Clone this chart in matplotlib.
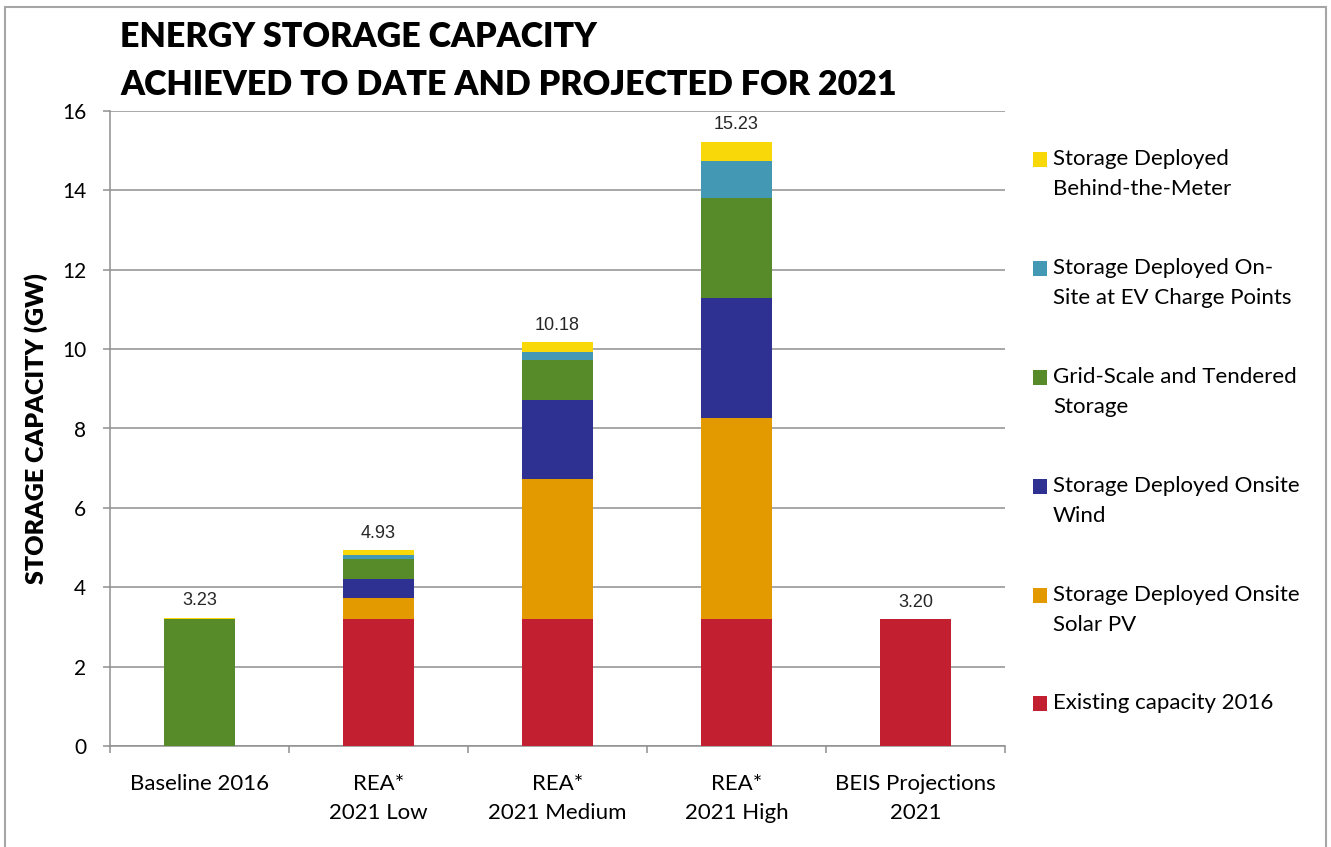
import matplotlib.pyplot as plt
from matplotlib.patches import Rectangle
import numpy as np

# categories along the x axis
categories = ["Baseline 2016", "REA*\n2021 Low", "REA*\n2021 Medium",
              "REA*\n2021 High", "BEIS Projections\n2021"]

# stacked segments (GW), bottom to top
existing = [0.00, 3.20, 3.20, 3.20, 3.20]
solar_pv = [0.00, 0.53, 3.53, 5.06, 0.00]
wind = [0.00, 0.48, 2.00, 3.02, 0.00]
grid_scale = [3.20, 0.50, 1.00, 2.52, 0.00]
ev_points = [0.00, 0.10, 0.20, 0.94, 0.00]
behind_meter = [0.03, 0.12, 0.25, 0.49, 0.00]

totals = [3.23, 4.93, 10.18, 15.23, 3.20]

series = [
    ("Existing capacity 2016", existing, "#C21F30"),
    ("Storage Deployed Onsite\nSolar PV", solar_pv, "#E29A00"),
    ("Storage Deployed Onsite\nWind", wind, "#2E3192"),
    ("Grid-Scale and Tendered\nStorage", grid_scale, "#578B2A"),
    ("Storage Deployed On-\nSite at EV Charge Points", ev_points, "#4398B3"),
    ("Storage Deployed\nBehind-the-Meter", behind_meter, "#F8D808"),
]

W, H = 1331, 847
fig = plt.figure(figsize=(W / 100, H / 100), dpi=100)
fig.patch.set_facecolor("white")

# outer chart border
fig.patches.append(Rectangle((5 / W, -0.01), 1321 / W, 1 - 7 / H + 0.01,
                             transform=fig.transFigure, fill=False,
                             edgecolor="#a6a6a6", linewidth=1.5))

ax = fig.add_axes([110 / W, 1 - 746 / H, 895 / W, 635 / H])

x = np.arange(len(categories))
bottom = np.zeros(len(categories))
for label, vals, color in series:
    vals = np.array(vals)
    ax.bar(x, vals, width=0.4, bottom=bottom, color=color, zorder=3)
    bottom += vals

for xi, t in zip(x, totals):
    ax.annotate(f"{t:.2f}", (xi, t), xytext=(0, 6), textcoords="offset points",
                ha="center", va="bottom", fontsize=13,
                family="Liberation Sans", color="#262626")

ax.set_xlim(-0.5, len(categories) - 0.5)
ax.set_ylim(0, 16)
ax.set_yticks(np.arange(0, 17, 2))
ax.yaxis.grid(True, color="#8f8f8f", linewidth=1.1, zorder=0)
ax.set_axisbelow(True)

ax.set_xticks(x)
ax.set_xticklabels(categories, family="Lato", fontsize=16, linespacing=1.6)
ax.set_xticks(np.arange(-0.5, len(categories), 1), minor=True)
ax.tick_params(axis="x", which="major", length=0, pad=20)
ax.tick_params(axis="x", which="minor", length=5, width=1.1, color="#8f8f8f")
ax.tick_params(axis="y", length=5, width=1.1, color="#8f8f8f", pad=12,
               labelsize=15)
for lab in ax.get_yticklabels():
    lab.set_family("Lato")

for s in ["top", "right"]:
    ax.spines[s].set_visible(False)
for s in ["left", "bottom"]:
    ax.spines[s].set_color("#8f8f8f")
    ax.spines[s].set_linewidth(1.1)

ax.set_ylabel("STORAGE CAPACITY (GW)", family="Lato", fontweight="heavy",
              fontsize=18, labelpad=10)

fig.text(120 / W, 1 - 37 / H, "ENERGY STORAGE CAPACITY", family="Lato",
         fontweight="heavy", fontsize=24.5, va="center", ha="left")
fig.text(120 / W, 1 - 85 / H, "ACHIEVED TO DATE AND PROJECTED FOR 2021",
         family="Lato", fontweight="heavy", fontsize=24.5, va="center",
         ha="left")

# legend, top entry first
legend_y = [159, 268, 377, 486, 595, 703]
for (label, vals, color), ly in zip(series[::-1], legend_y):
    fig.patches.append(Rectangle((1033 / W, 1 - (ly + 8) / H), 14 / W, 15 / H,
                                 transform=fig.transFigure, facecolor=color,
                                 edgecolor="none"))
    fig.text(1053 / W, 1 - (ly - 10) / H, label, family="Lato", fontsize=16,
             va="top", ha="left", linespacing=1.6)

fig.savefig("out.png", dpi=100)
